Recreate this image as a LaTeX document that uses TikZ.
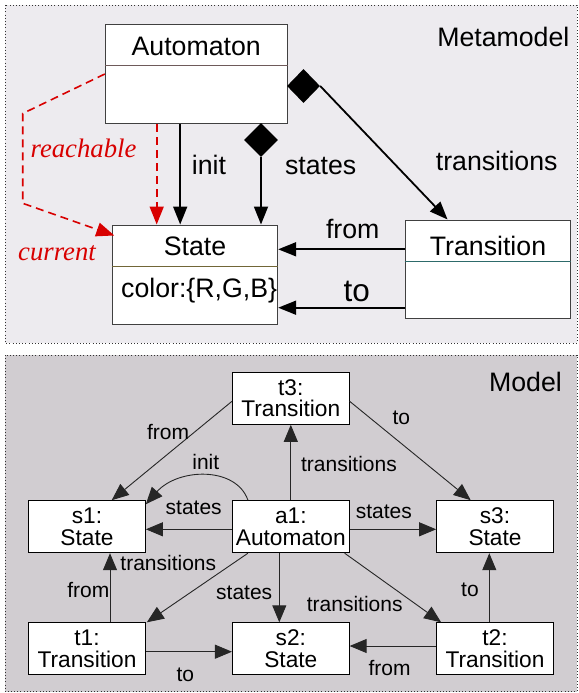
\documentclass[tikz,border=0pt]{standalone}
\usepackage{fontspec}
\setmainfont{Liberation Sans}
\newfontfamily\redserif{Liberation Serif}
\usetikzlibrary{arrows.meta,shapes.geometric}
\definecolor{toppanel}{HTML}{EDEBEF}
\definecolor{botpanel}{HTML}{D1CDD1}
\definecolor{umlred}{HTML}{D80000}
\definecolor{divA}{HTML}{6E5A5A}
\definecolor{divS}{HTML}{716637}
\definecolor{divT}{HTML}{2D6A6A}
\tikzset{
  panel/.style={draw=black!80, line width=0.8pt, dash pattern=on 1pt off 2.2pt},
  umlbox/.style={draw=black!75, fill=white, line width=1pt, inner sep=0pt},
  bigfont/.style={font=\fontsize{26.7}{28}\selectfont},
  toplbl/.style={inner sep=0pt, font=\fontsize{26.7}{28}\selectfont},
  redlbl/.style={inner sep=0pt, text=umlred, font=\fontsize{26.7}{28}\redserif\itshape},
  bigarrow/.style={line width=1.8pt, -{Triangle[length=18pt,width=14pt]}},
  redarrow/.style={umlred, line width=1.6pt, dash pattern=on 8pt off 5pt, -{Triangle[length=18pt,width=14pt]}},
  comp/.style={diamond, fill=black, inner sep=0pt, minimum width=34pt, minimum height=34pt},
  objbox/.style={draw=black, fill=white, line width=1pt, minimum width=116.7pt, minimum height=52pt, inner sep=0pt, align=center, font=\fontsize{22.7}{21.7}\selectfont},
  edge/.style={draw=black!85, line width=0.9pt, -{Triangle[length=17pt,width=14pt]}},
  elabel/.style={inner sep=0pt, font=\fontsize{21}{22}\selectfont}
}
\begin{document}
\begin{tikzpicture}[x=1pt,y=-1pt]
\useasboundingbox (0,0) rectangle (578,693);
\fill[white] (0,0) rectangle (578,693);
% panels
\path[panel, fill=toppanel] (5,5) rectangle (577,343);
\path[panel, fill=botpanel] (5,355) rectangle (577,691.5);
\node[toplbl] (mmlbl) at (503.3,37) {Metamodel};
\node[toplbl] (mlbl) at (525.5,381.7) {Model};

% ---------- Metamodel ----------
\node[umlbox, minimum width=181.7pt, minimum height=99pt] (A) at (196.2,74.2) {};
\draw[divA, line width=1pt] (A.west |- 0,66) -- (A.east |- 0,66);
\node[toplbl] (Atitle) at (196.2,46.7) {Automaton};

\node[umlbox, minimum width=165.4pt, minimum height=99pt] (St) at (195,274.5) {};
\draw[divS, line width=1pt] (St.west |- 0,266.7) -- (St.east |- 0,266.7);
\node[toplbl] (Sttitle) at (195,246.7) {State};
\node[toplbl, anchor=west] (Stattr) at (121,291) {color:\{R,G,B\}};

\node[umlbox, minimum width=165.7pt, minimum height=98pt] (Tr) at (487.9,269) {};
\draw[divT, line width=1pt] (Tr.west |- 0,261) -- (Tr.east |- 0,261);
\node[toplbl] (Trtitle) at (488,245.7) {Transition};

% composition diamonds
\node[comp] (dS) at (261,140) {};
\node[comp, minimum width=33pt] (dT) at (303.5,86) {};

% arrows
\draw[bigarrow] ([xshift=-16pt]A.south) -- ([xshift=-16pt]A.south |- St.north);
\draw[bigarrow] (dS.south) -- (dS.south |- St.north);
\draw[bigarrow] (dT.east) -- ([xshift=43pt]Tr.north west);
\coordinate (fy) at (0,249.3);
\coordinate (ty) at (0,307.7);
\draw[bigarrow] (Tr.west |- fy) -- (St.east |- fy);
\draw[bigarrow] (Tr.west |- ty) -- (St.east |- ty);

\node[toplbl] (linit) at (209,164.5) {init};
\node[toplbl] (lstates) at (320.7,165.5) {states};
\node[toplbl] (ltrans) at (496.7,161) {transitions};
\node[toplbl] (lfrom) at (352.7,229) {from};
\node[inner sep=0pt, font=\fontsize{31.5}{33}\selectfont] (lto) at (356.7,291.7) {to};

% red derived references
\coordinate (c1) at (22.7,113.5);
\coordinate (c2) at (22.7,203.3);
\draw[redarrow] ([yshift=0.2pt]A.west) -- (c1) -- (c2) -- ([xshift=2.5pt,yshift=-11pt]St.north west);
\draw[redarrow] ([xshift=-39.5pt]A.south) -- ([xshift=-39.5pt]A.south |- St.north);
\node[redlbl] (lreach) at (83.5,148) {reachable};
\node[redlbl] (lcur) at (57,253) {current};

% ---------- Model ----------
\node[objbox] (t3) at (290.8,398.3) {t3:\\Transition};
\node[objbox] (s1) at (87,526.7) {s1:\\State};
\node[objbox] (a1) at (290.8,526.7) {a1:\\Automaton};
\node[objbox] (s3) at (495,526.7) {s3:\\State};
\node[objbox] (t1) at (87,648.8) {t1:\\Transition};
\node[objbox] (s2) at (290.8,648.8) {s2:\\State};
\node[objbox] (t2) at (495,648.8) {t2:\\Transition};

\draw[edge] ([yshift=-3pt]t3.west) -- ([xshift=24.7pt]s1.north);
\draw[edge] ([xshift=16pt]a1.north west) .. controls (236,466) and (178,468) .. ([yshift=-4pt]s1.north east);
\draw[edge] ([yshift=-2.6pt]a1.west) -- ([yshift=-2.6pt]s1.east);
\draw[edge] (a1.north) -- (t3.south);
\draw[edge] ([yshift=-3pt]t3.east) -- ([xshift=-24.3pt]s3.north);
\draw[edge] ([yshift=-2.6pt]a1.east) -- ([yshift=-2.6pt]s3.west);
\draw[edge] ([xshift=16pt]a1.south west) -- ([xshift=1pt]t1.north east);
\draw[edge] ([xshift=23pt]t1.north) -- ([xshift=23pt]t1.north |- s1.south);
\draw[edge] ([xshift=-11.5pt]a1.south) -- ([xshift=-11.5pt]a1.south |- s2.north);
\draw[edge] ([xshift=-5pt]a1.south east) -- ([xshift=5pt]t2.north west);
\draw[edge] ([xshift=-5.7pt]t2.north) -- ([xshift=-5.7pt]t2.north |- s3.south);
\draw[edge] ([yshift=2.8pt]t2.west) -- ([yshift=2.8pt]s2.east);
\draw[edge] ([yshift=-2.9pt]t1.east) -- ([yshift=-2.9pt]s2.west);

\node[elabel] (m1) at (168,431.5) {from};
\node[elabel] (m2) at (205.8,462) {init};
\node[elabel] (m3) at (193.7,507.7) {states};
\node[elabel] (m4) at (349,464) {transitions};
\node[elabel] (m5) at (401.3,418.3) {to};
\node[elabel] (m6) at (383.8,511.7) {states};
\node[elabel] (m7) at (168.3,563.3) {transitions};
\node[elabel] (m8) at (88.3,590) {from};
\node[elabel] (m9) at (244.2,592.7) {states};
\node[elabel] (m10) at (354.7,604) {transitions};
\node[elabel] (m11) at (470,590) {to};
\node[elabel] (m12) at (389.5,667.5) {from};
\node[elabel] (m13) at (185.3,675) {to};
\end{tikzpicture}
\end{document}
